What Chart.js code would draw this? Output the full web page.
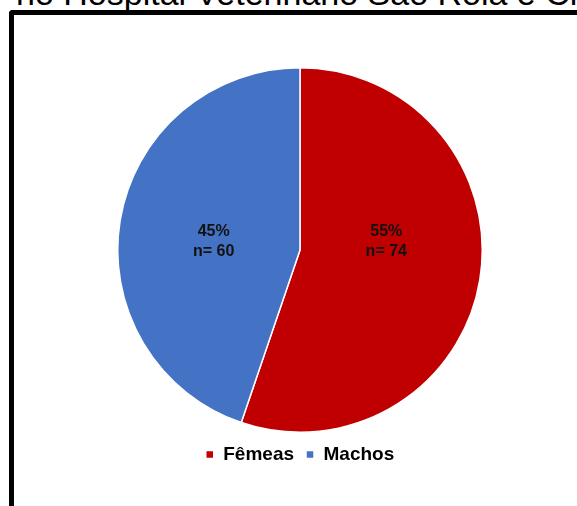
<!DOCTYPE html>
<html>
<head>
<meta charset="utf-8">
<script src="https://cdn.jsdelivr.net/npm/chart.js@4.4.0/dist/chart.umd.min.js"></script>
<style>
  body { margin: 0; background: #fff; width: 577px; height: 506px; overflow: hidden; position: relative; font-family: "Liberation Sans", Arial, sans-serif; }
  #title { position: absolute; left: 16px; top: -24px; font-size: 34px; line-height: 34px; white-space: nowrap; color: #000; }
  #frame { position: absolute; left: 9px; top: 10px; width: 700px; height: 600px; border-left: 5px solid #000; border-top: 5px solid #000; border-top-left-radius: 4px; }
  #wrap { position: absolute; left: 100px; top: 67px; width: 400px; height: 407px; }
</style>
</head>
<body>
<div id="title">no Hospital Veterinário São Rola e Clara</div>
<div id="frame"></div>
<div id="wrap"><canvas id="pie-chart"></canvas></div>
<script>
const labels = ["Fêmeas", "Machos"];
const counts = [74, 60];
const colors = ["#C00000", "#4472C4"];

// rótulos dentro das fatias: percentagem + n
const sliceLabels = {
  id: "sliceLabels",
  afterDatasetsDraw(chart) {
    const ctx = chart.ctx;
    const meta = chart.getDatasetMeta(0);
    const total = counts.reduce((a, b) => a + b, 0);
    ctx.save();
    ctx.font = "bold 16px 'Liberation Sans', Arial, sans-serif";
    ctx.fillStyle = "#111";
    ctx.textAlign = "center";
    ctx.textBaseline = "middle";
    meta.data.forEach((arc, i) => {
      const p = arc.getProps(["x", "y", "startAngle", "endAngle", "outerRadius"], true);
      const mid = (p.startAngle + p.endAngle) / 2;
      const x = p.x + Math.cos(mid) * p.outerRadius * 0.48;
      const y = p.y - 8;
      const pct = Math.round(counts[i] / total * 100);
      ctx.fillText(pct + "%", x, y - 10);
      ctx.fillText("n= " + counts[i], x, y + 10);
    });
    ctx.restore();
  }
};

const pieChart = new Chart(document.querySelector("#pie-chart"), {
  type: "pie",
  data: {
    labels: labels,
    datasets: [
      {
        data: counts,
        backgroundColor: colors,
        borderColor: "#fff",
        borderWidth: 1.5,
      },
    ],
  },
  options: {
    responsive: true,
    maintainAspectRatio: false,
    animation: false,
    layout: { padding: 0 },
    plugins: {
      legend: {
        position: "bottom",
        labels: {
          boxWidth: 8,
          boxHeight: 8,
          padding: 12,
          color: "#000",
          font: { family: "'Liberation Sans', Arial, sans-serif", size: 19, weight: "bold" },
        },
      },
      tooltip: { enabled: false },
    },
  },
  plugins: [sliceLabels],
});
</script>
</body>
</html>
